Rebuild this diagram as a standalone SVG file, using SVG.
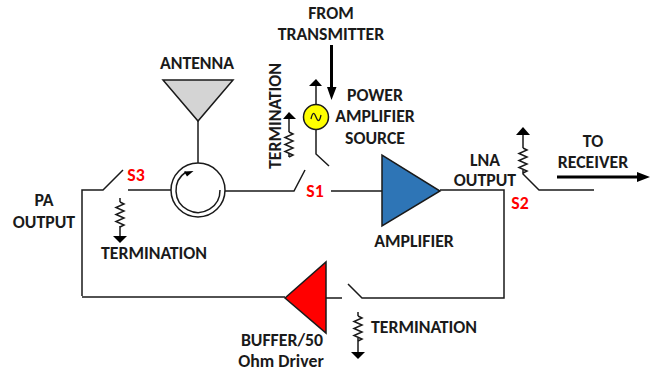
<svg xmlns="http://www.w3.org/2000/svg" width="667" height="376" viewBox="0 0 667 376">
<style>
text{font-family:Carlito,Lato,"Open Sans",sans-serif;font-weight:700;font-size:17.8px;fill:#1a1a1a;text-anchor:middle}
.red{fill:#f00}
.w{fill:none;stroke:#1a1a1a;stroke-width:1.5}
.th{fill:none;stroke:#000;stroke-width:3}
.h{fill:#000;stroke:none}
</style>
<defs>
<path id="r" d="M0 0l4 2-8 3.500 8 3.500-8 3.500 8 3.500-8 3.500 8 3.500-4 2" fill="none" stroke="#1a1a1a" stroke-width="1.500"/>
</defs>
<rect width="667" height="376" fill="#fff"/>
<g id="connectors">
<path class="w" d="M198 121V163M128 190H171M225 191H294L305 170M82 296V190H103L123 170M331 191H382M440 190H504V298H362L348 284M342 298H326M285 297H82M316 130V154L329 166M316 104V86M523 135V148M523 170V174L539 190H594M120 198V202M120 226V236M289 119V132M289 153V157M358 312V316M358 338V352" stroke-linejoin="miter"/>
<path class="th" d="M331.500 45V90M557 177H640"/>
<path class="h" d="M327 87H336.500L331.500 100ZM637 172L650 177L637 182Z"/>
</g>
<g id="antenna"><path d="M163 80H233L198 121Z" fill="#d4d4d4" stroke="#1a1a1a" stroke-width="1.500"/><text x="197" y="69">ANTENNA</text></g>
<g id="circulator"><circle cx="198" cy="190" r="27" fill="#fff" stroke="#1a1a1a" stroke-width="1.500"/><path class="w" d="M186 172A22 22 0 1 0 220 190"/><path class="h" d="M193.500 171L184 171.500L187 176.500Z"/></g>
<g id="s3"><text class="red" x="136" y="181">S3</text></g>
<g id="pa-output"><text x="44" y="206">PA</text><text x="44" y="228">OUTPUT</text></g>
<g id="term-s3"><use href="#r" x="120" y="202"/><path class="h" d="M113 236H127L120 243Z"/><text x="154" y="259">TERMINATION</text></g>
<g id="from-tx"><text x="331" y="19">FROM</text><text x="331" y="40">TRANSMITTER</text></g>
<g id="source"><circle cx="316" cy="117" r="12.500" fill="#ff0" stroke="#1a1a1a" stroke-width="1.500"/><path d="M311 119C312.500 112 314 112 316 117S319.500 122 321 115" fill="none" stroke="#1a1a1a" stroke-width="1.300"/><path class="h" d="M309 86H322L316 79Z"/><text x="375" y="101">POWER</text><text x="375" y="122">AMPLIFIER</text><text x="375" y="144">SOURCE</text></g>
<g id="term-s1"><use href="#r" x="289" y="132"/><path class="h" d="M283 119H296L289 112Z"/><text transform="translate(281 116) rotate(-90)" x="0" y="0">TERMINATION</text></g>
<g id="s1"><text class="red" x="315" y="197">S1</text></g>
<g id="amplifier"><path d="M382 155V226L440 191Z" fill="#2e75b6" stroke="#1a1a1a" stroke-width="1.500"/><text x="414" y="247">AMPLIFIER</text></g>
<g id="lna"><text x="485" y="166">LNA</text><text x="485" y="186">OUTPUT</text></g>
<g id="s2"><text class="red" x="520" y="209">S2</text></g>
<g id="term-s2"><use href="#r" x="523" y="148"/><path class="h" d="M516 135H530L523 127Z"/></g>
<g id="receiver"><text x="593" y="147">TO</text><text x="593" y="168">RECEIVER</text></g>
<g id="buffer"><path d="M285 298L326 262V333Z" fill="#f00" stroke="#1a1a1a" stroke-width="1.500"/><text x="282" y="346">BUFFER/50</text><text x="281" y="367">Ohm Driver</text></g>
<g id="term-buffer"><use href="#r" x="358" y="316"/><path class="h" d="M351 352H365L358 359Z"/><text x="424" y="333">TERMINATION</text></g>
</svg>
